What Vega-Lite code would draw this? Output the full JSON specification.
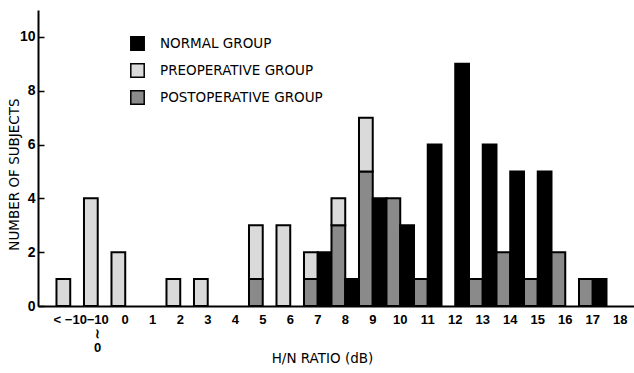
{
  "$schema": "https://vega.github.io/schema/vega-lite/v6.json",
  "autosize": "none",
  "width": 596,
  "height": 296,
  "padding": {"left": 38, "top": 10, "right": 0, "bottom": 67},
  "background": "white",
  "config": {"view": {"stroke": null}},
  "data": {"values": [
    {"ratio": "<-10", "slot": "abnormal", "group": "PREOPERATIVE GROUP", "count": 1},
    {"ratio": "-10~0", "slot": "abnormal", "group": "PREOPERATIVE GROUP", "count": 4},
    {"ratio": "0", "slot": "abnormal", "group": "PREOPERATIVE GROUP", "count": 2},
    {"ratio": "2", "slot": "abnormal", "group": "PREOPERATIVE GROUP", "count": 1},
    {"ratio": "3", "slot": "abnormal", "group": "PREOPERATIVE GROUP", "count": 1},
    {"ratio": "5", "slot": "abnormal", "group": "POSTOPERATIVE GROUP", "count": 1},
    {"ratio": "5", "slot": "abnormal", "group": "PREOPERATIVE GROUP", "count": 2},
    {"ratio": "6", "slot": "abnormal", "group": "PREOPERATIVE GROUP", "count": 3},
    {"ratio": "7", "slot": "abnormal", "group": "POSTOPERATIVE GROUP", "count": 1},
    {"ratio": "7", "slot": "abnormal", "group": "PREOPERATIVE GROUP", "count": 1},
    {"ratio": "7", "slot": "normal", "group": "NORMAL GROUP", "count": 2},
    {"ratio": "8", "slot": "abnormal", "group": "POSTOPERATIVE GROUP", "count": 3},
    {"ratio": "8", "slot": "abnormal", "group": "PREOPERATIVE GROUP", "count": 1},
    {"ratio": "8", "slot": "normal", "group": "NORMAL GROUP", "count": 1},
    {"ratio": "9", "slot": "abnormal", "group": "POSTOPERATIVE GROUP", "count": 5},
    {"ratio": "9", "slot": "abnormal", "group": "PREOPERATIVE GROUP", "count": 2},
    {"ratio": "9", "slot": "normal", "group": "NORMAL GROUP", "count": 4},
    {"ratio": "10", "slot": "abnormal", "group": "POSTOPERATIVE GROUP", "count": 4},
    {"ratio": "10", "slot": "normal", "group": "NORMAL GROUP", "count": 3},
    {"ratio": "11", "slot": "abnormal", "group": "POSTOPERATIVE GROUP", "count": 1},
    {"ratio": "11", "slot": "normal", "group": "NORMAL GROUP", "count": 6},
    {"ratio": "12", "slot": "normal", "group": "NORMAL GROUP", "count": 9},
    {"ratio": "13", "slot": "abnormal", "group": "POSTOPERATIVE GROUP", "count": 1},
    {"ratio": "13", "slot": "normal", "group": "NORMAL GROUP", "count": 6},
    {"ratio": "14", "slot": "abnormal", "group": "POSTOPERATIVE GROUP", "count": 2},
    {"ratio": "14", "slot": "normal", "group": "NORMAL GROUP", "count": 5},
    {"ratio": "15", "slot": "abnormal", "group": "POSTOPERATIVE GROUP", "count": 1},
    {"ratio": "15", "slot": "normal", "group": "NORMAL GROUP", "count": 5},
    {"ratio": "16", "slot": "abnormal", "group": "POSTOPERATIVE GROUP", "count": 2},
    {"ratio": "17", "slot": "abnormal", "group": "POSTOPERATIVE GROUP", "count": 1},
    {"ratio": "17", "slot": "normal", "group": "NORMAL GROUP", "count": 1}
  ]},
  "mark": {"type": "bar", "stroke": "black", "strokeWidth": 2},
  "encoding": {
    "x": {
      "field": "ratio", "type": "ordinal",
      "scale": {
        "domain": ["<-10", "-10~0", "0", "1", "2", "3", "4", "5", "6", "7", "8", "9", "10", "11", "12", "13", "14", "15", "16", "17", "18"],
        "paddingInner": 0, "paddingOuter": 0.336, "align": 1
      },
      "axis": {
        "title": "H/N RATIO (dB)",
        "titleFont": "DejaVu Sans", "titleFontSize": 13.5, "titleFontWeight": "normal", "titleColor": "black",
        "titleX": 284, "titleY": 52, "titleBaseline": "middle", "titleAlign": "center",
        "labelAngle": 0, "ticks": false, "labelPadding": 7,
        "labelFont": "Liberation Sans", "labelFontSize": 13, "labelFontWeight": "bold", "labelColor": "black",
        "labelExpr": "datum.value == '<-10' ? '< −10' : (datum.value == '-10~0' ? ['−10', '≀', '0'] : datum.value)",
        "labelLineHeight": 14,
        "domainColor": "black", "domainWidth": 2
      }
    },
    "xOffset": {
      "field": "slot", "type": "nominal",
      "scale": {"domain": ["abnormal", "normal"], "paddingInner": 0, "paddingOuter": 0}
    },
    "y": {
      "field": "count", "type": "quantitative", "stack": "zero",
      "scale": {"domain": [0, 11], "nice": false},
      "axis": {
        "title": "NUMBER OF SUBJECTS",
        "titleFont": "DejaVu Sans", "titleFontSize": 13.5, "titleFontWeight": "normal", "titleColor": "black",
        "titleX": -24, "titleY": 164, "titleAngle": -90, "titleBaseline": "middle", "titleAlign": "center",
        "values": [0, 2, 4, 6, 8, 10], "grid": false,
        "tickSize": -6, "tickColor": "black", "tickWidth": 1.5, "labelPadding": 9,
        "labelFont": "Liberation Sans", "labelFontSize": 14, "labelFontWeight": "bold", "labelColor": "black",
        "domainColor": "black", "domainWidth": 2
      }
    },
    "color": {
      "field": "group", "type": "nominal",
      "scale": {
        "domain": ["NORMAL GROUP", "PREOPERATIVE GROUP", "POSTOPERATIVE GROUP"],
        "range": ["#000000", "#dadada", "#8a8a8a"]
      },
      "legend": {
        "orient": "none", "legendX": 92, "legendY": 26, "title": null, "padding": 0,
        "symbolType": "square", "symbolSize": 180, "symbolStrokeColor": "black", "symbolStrokeWidth": 1.5,
        "symbolOpacity": 1,
        "labelFont": "DejaVu Sans", "labelFontSize": 13.5, "labelColor": "black", "labelOffset": 15,
        "labelLimit": 400, "rowPadding": 6
      }
    },
    "order": {"field": "group", "sort": "ascending"}
  }
}
